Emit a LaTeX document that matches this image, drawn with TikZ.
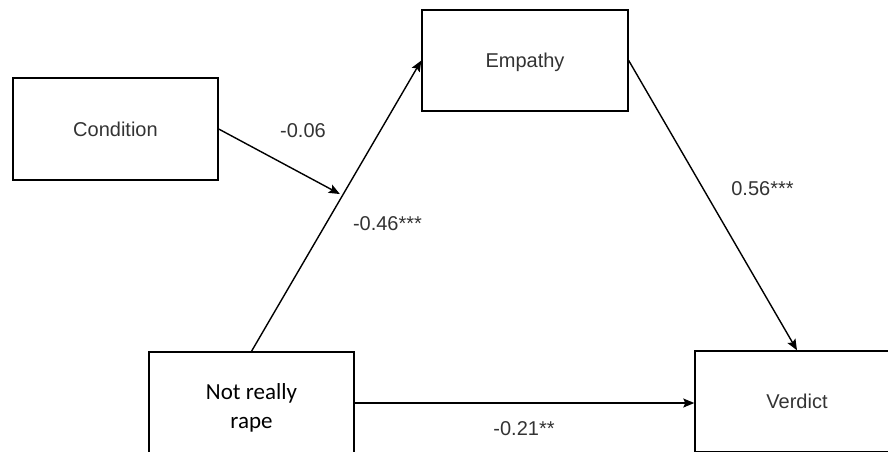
\documentclass[tikz,border=0pt]{standalone}
\usepackage{fontspec}
\setmainfont{Liberation Sans}
\newfontfamily\calib{Carlito}
\usetikzlibrary{arrows.meta,calc}
\begin{document}
\begin{tikzpicture}[x=1pt,y=-1pt,
  box/.style={draw, line width=1.4pt, inner sep=0pt, text height=14pt, text depth=0pt,
    font=\fontsize{20}{24}\selectfont, text=black!80},
  arr/.style={line width=1.4pt, -{Stealth[length=11pt,width=9pt,inset=2pt]}},
  lab/.style={font=\fontsize{20}{24}\selectfont, text=black!80, inner sep=0pt, anchor=base}]
\useasboundingbox (0,0) rectangle (888,451);
\node[box, minimum width=205pt, minimum height=102pt] (cond) at (115.5,129) {Condition};
\node[box, minimum width=206pt, minimum height=101pt] (emp) at (525,60.5) {Empathy};
\node[box, minimum width=205pt, minimum height=102pt] (nr) at (251.5,403) {};
\node[box, minimum width=204pt, minimum height=101pt] (ver) at (797,401.5) {Verdict};
\node[anchor=base, inner sep=0pt, align=center, font=\calib\fontsize{23}{29}\selectfont, text=black] (nrtext) at (251.5,428) {Not really\\rape};
\draw[arr] (nr.north) -- (emp.west);
\draw[arr] (emp.east) -- (ver.north);
\draw[arr] (nr.east) -- (nr.east -| ver.west);
\coordinate (m) at ($(nr.north)!0.536!(emp.west)$);
\draw[arr, shorten >=3pt] (cond.east) -- (m);
\node[lab] (l1) at (303,137) {-0.06};
\node[lab] (l2) at (387.5,230) {-0.46***};
\node[lab] (l3) at (762.5,195) {0.56***};
\node[lab] (l4) at (524,435) {-0.21**};
\end{tikzpicture}
\end{document}
